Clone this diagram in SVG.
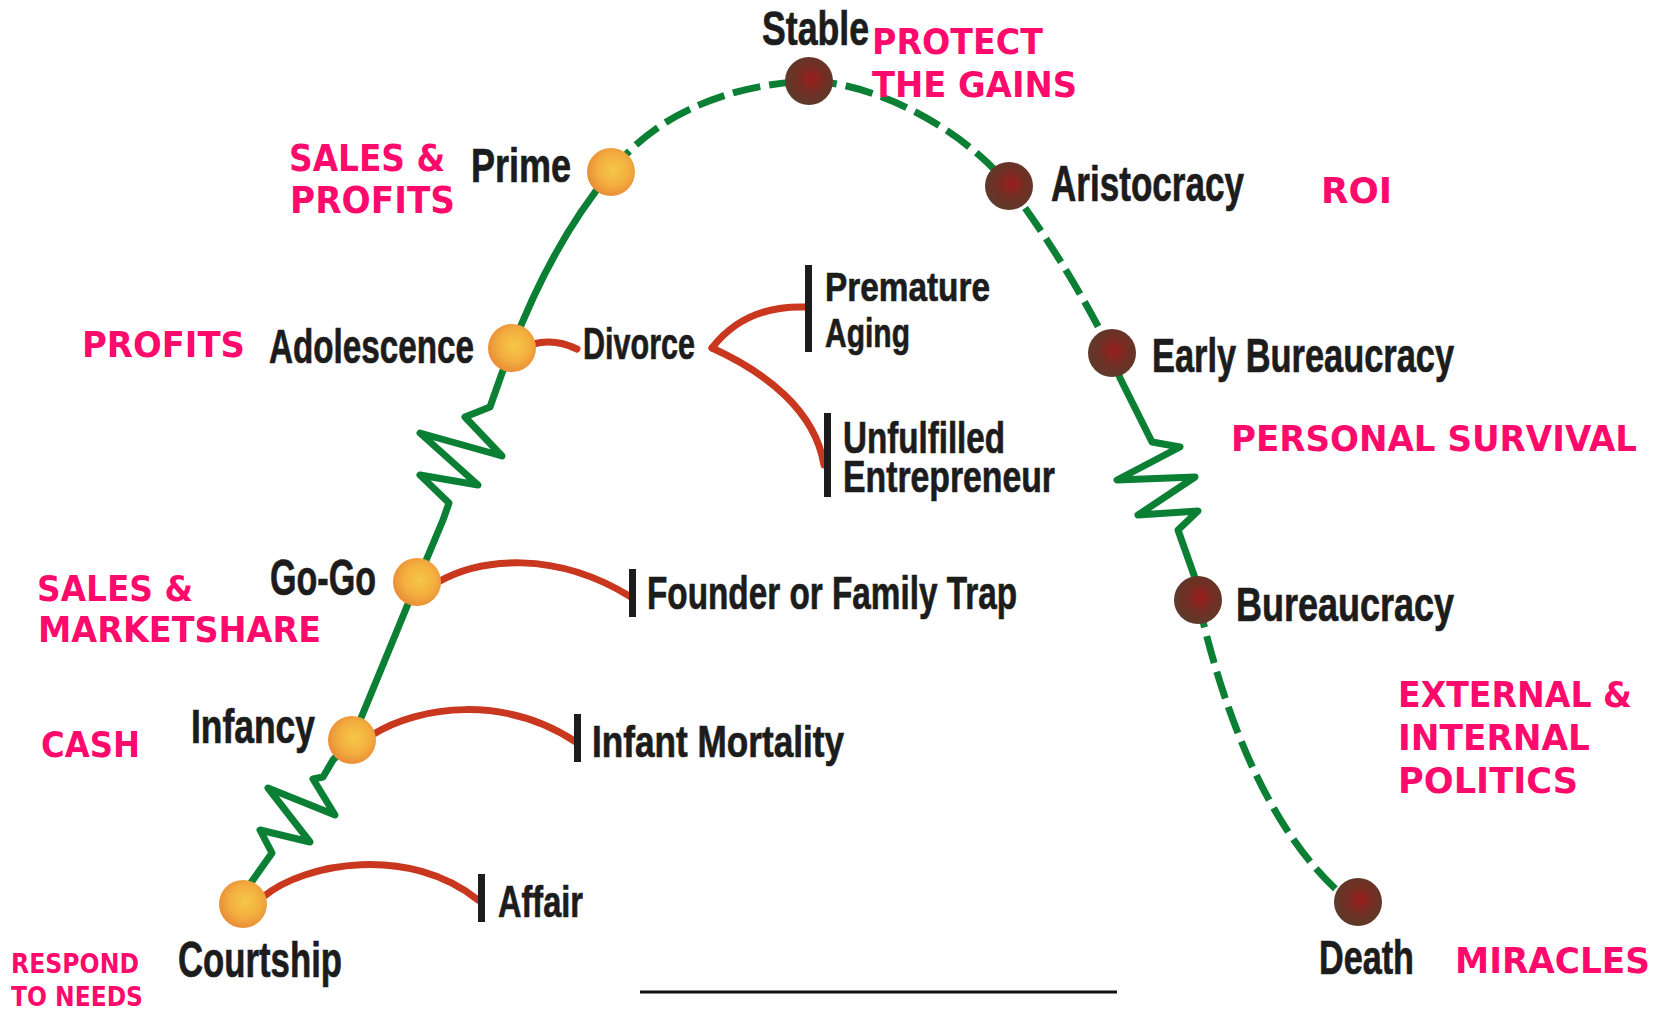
<svg xmlns="http://www.w3.org/2000/svg" width="1662" height="1009" viewBox="0 0 1662 1009">
<style>
.lb{font-family:"Liberation Sans",Arial,sans-serif;font-weight:bold;fill:#1c1c1c;stroke:#1c1c1c;stroke-width:0.7}
.pk{font-family:"DejaVu Sans",Verdana,sans-serif;font-weight:bold;fill:#fd0a6c}
.g{fill:none;stroke:#0b7f33;stroke-width:7;stroke-linejoin:round;stroke-linecap:round}
.gd{fill:none;stroke:#0b7f33;stroke-width:7;stroke-dasharray:28 9}
.r{fill:none;stroke:#c9371f;stroke-width:7;stroke-linecap:round}
.bar{fill:#1c1c1c}
.on{fill:url(#og)}
.bn{fill:url(#bg)}
</style>
<defs>
<radialGradient id="og" cx="0.55" cy="0.45" r="0.55">
<stop offset="0" stop-color="#f6c746"/>
<stop offset="0.6" stop-color="#f3ae3f"/>
<stop offset="1" stop-color="#ea8f37"/>
</radialGradient>
<radialGradient id="bg" cx="0.55" cy="0.45" r="0.55">
<stop offset="0" stop-color="#9c1e1e"/>
<stop offset="0.55" stop-color="#702f24"/>
<stop offset="1" stop-color="#5e3a2b"/>
</radialGradient>
</defs>
<rect width="1662" height="1009" fill="#ffffff"/>
<g id="connectors">
<path class="g" d="M243,904 L250,884 L272,853 L260,830 L310,842 L268,788 L335,815 L313,779 L323,777 L333,760 L352,740 L417,582 L443,520 L449,503 L420,475 L478,485 L420,433 L502,456 L465,417 L490,407 L502,373 L512,348 C540,275 575,215 611,172"/>
<path class="gd" d="M611,172 C650,120 720,85 809,81"/>
<path class="gd" d="M809,81 C870,82 960,125 1009,186 C1050,240 1085,300 1112,353"/>
<path class="g" d="M1112,353 L1120,378 L1152,442 L1180,447 L1117,480 L1195,477 L1138,515 L1198,511 L1178,530 L1195,578 L1198,600"/>
<path class="gd" d="M1198,600 C1225,720 1270,830 1340,893"/>
<path class="r" d="M263,897 C305,862 410,845 478,900"/>
<path class="r" d="M372,735 C420,705 505,695 576,742"/>
<path class="r" d="M438,582 C480,558 555,550 631,597"/>
<path class="r" d="M533,344 Q555,338 577,349"/>
<path class="r" d="M712,348 Q745,305 806,307"/>
<path class="r" d="M712,348 C765,372 815,410 824,465"/>
<line x1="640" y1="992" x2="1117" y2="992" stroke="#111" stroke-width="3"/>
</g>
<g id="courtship"><circle class="on" cx="243" cy="904" r="24"/><text class="lb" x="178" y="977" font-size="50" textLength="164" lengthAdjust="spacingAndGlyphs">Courtship</text></g>
<g id="infancy"><circle class="on" cx="352" cy="740" r="24"/><text class="lb" x="191" y="743" font-size="48" textLength="124" lengthAdjust="spacingAndGlyphs">Infancy</text></g>
<g id="gogo"><circle class="on" cx="417" cy="582" r="24"/><text class="lb" x="270" y="595" font-size="50" textLength="106" lengthAdjust="spacingAndGlyphs">Go-Go</text></g>
<g id="adolescence"><circle class="on" cx="512" cy="348" r="24"/><text class="lb" x="269" y="363" font-size="48" textLength="205" lengthAdjust="spacingAndGlyphs">Adolescence</text></g>
<g id="prime"><circle class="on" cx="611" cy="172" r="24"/><text class="lb" x="471" y="182" font-size="48" textLength="100" lengthAdjust="spacingAndGlyphs">Prime</text></g>
<g id="stable"><circle class="bn" cx="809" cy="81" r="24"/><text class="lb" x="762" y="45" font-size="48" textLength="107" lengthAdjust="spacingAndGlyphs">Stable</text></g>
<g id="aristocracy"><circle class="bn" cx="1009" cy="186" r="24"/><text class="lb" x="1051" y="201" font-size="50" textLength="193" lengthAdjust="spacingAndGlyphs">Aristocracy</text></g>
<g id="early-bureaucracy"><circle class="bn" cx="1112" cy="353" r="24"/><text class="lb" x="1152" y="372" font-size="48" textLength="302" lengthAdjust="spacingAndGlyphs">Early Bureaucracy</text></g>
<g id="bureaucracy"><circle class="bn" cx="1198" cy="600" r="24"/><text class="lb" x="1236" y="621" font-size="48" textLength="218" lengthAdjust="spacingAndGlyphs">Bureaucracy</text></g>
<g id="death"><circle class="bn" cx="1358" cy="902" r="24"/><text class="lb" x="1319" y="974" font-size="48" textLength="95" lengthAdjust="spacingAndGlyphs">Death</text></g>
<g id="affair"><rect class="bar" x="478" y="874" width="7" height="48"/><text class="lb" x="498" y="917" font-size="44" textLength="85" lengthAdjust="spacingAndGlyphs">Affair</text></g>
<g id="infant-mortality"><rect class="bar" x="574" y="714" width="7" height="48"/><text class="lb" x="592" y="757" font-size="44" textLength="252" lengthAdjust="spacingAndGlyphs">Infant Mortality</text></g>
<g id="founder-trap"><rect class="bar" x="629" y="569" width="7" height="48"/><text class="lb" x="647" y="609" font-size="46" textLength="370" lengthAdjust="spacingAndGlyphs">Founder or Family Trap</text></g>
<g id="divorce"><text class="lb" x="583" y="359" font-size="44" textLength="112" lengthAdjust="spacingAndGlyphs">Divorce</text></g>
<g id="premature-aging"><rect class="bar" x="805" y="265" width="7" height="87"/><text class="lb" x="825" y="301" font-size="41" textLength="165" lengthAdjust="spacingAndGlyphs">Premature</text><text class="lb" x="825" y="347" font-size="41" textLength="85" lengthAdjust="spacingAndGlyphs">Aging</text></g>
<g id="unfulfilled-entrepreneur"><rect class="bar" x="824" y="413" width="7" height="84"/><text class="lb" x="843" y="453" font-size="44" textLength="162" lengthAdjust="spacingAndGlyphs">Unfulfilled</text><text class="lb" x="843" y="492" font-size="44" textLength="212" lengthAdjust="spacingAndGlyphs">Entrepreneur</text></g>
<g id="focus-labels">
<text class="pk" x="289" y="171" font-size="37" textLength="156" lengthAdjust="spacingAndGlyphs">SALES &amp;</text>
<text class="pk" x="290" y="213" font-size="37" textLength="165" lengthAdjust="spacingAndGlyphs">PROFITS</text>
<text class="pk" x="82" y="357" font-size="35" textLength="163" lengthAdjust="spacingAndGlyphs">PROFITS</text>
<text class="pk" x="872" y="54" font-size="36" textLength="171" lengthAdjust="spacingAndGlyphs">PROTECT</text>
<text class="pk" x="872" y="97" font-size="36" textLength="205" lengthAdjust="spacingAndGlyphs">THE GAINS</text>
<text class="pk" x="1321" y="203" font-size="36" textLength="71" lengthAdjust="spacingAndGlyphs">ROI</text>
<text class="pk" x="1231" y="451" font-size="36" textLength="406" lengthAdjust="spacingAndGlyphs">PERSONAL SURVIVAL</text>
<text class="pk" x="37" y="601" font-size="36" textLength="156" lengthAdjust="spacingAndGlyphs">SALES &amp;</text>
<text class="pk" x="38" y="642" font-size="36" textLength="283" lengthAdjust="spacingAndGlyphs">MARKETSHARE</text>
<text class="pk" x="41" y="757" font-size="36" textLength="99" lengthAdjust="spacingAndGlyphs">CASH</text>
<text class="pk" x="1398" y="707" font-size="36" textLength="234" lengthAdjust="spacingAndGlyphs">EXTERNAL &amp;</text>
<text class="pk" x="1398" y="750" font-size="36" textLength="192" lengthAdjust="spacingAndGlyphs">INTERNAL</text>
<text class="pk" x="1398" y="793" font-size="36" textLength="180" lengthAdjust="spacingAndGlyphs">POLITICS</text>
<text class="pk" x="1455" y="973" font-size="36" textLength="195" lengthAdjust="spacingAndGlyphs">MIRACLES</text>
<text class="pk" x="11" y="973" font-size="26" textLength="128" lengthAdjust="spacingAndGlyphs">RESPOND</text>
<text class="pk" x="11" y="1006" font-size="26" textLength="132" lengthAdjust="spacingAndGlyphs">TO NEEDS</text>
</g>
</svg>
